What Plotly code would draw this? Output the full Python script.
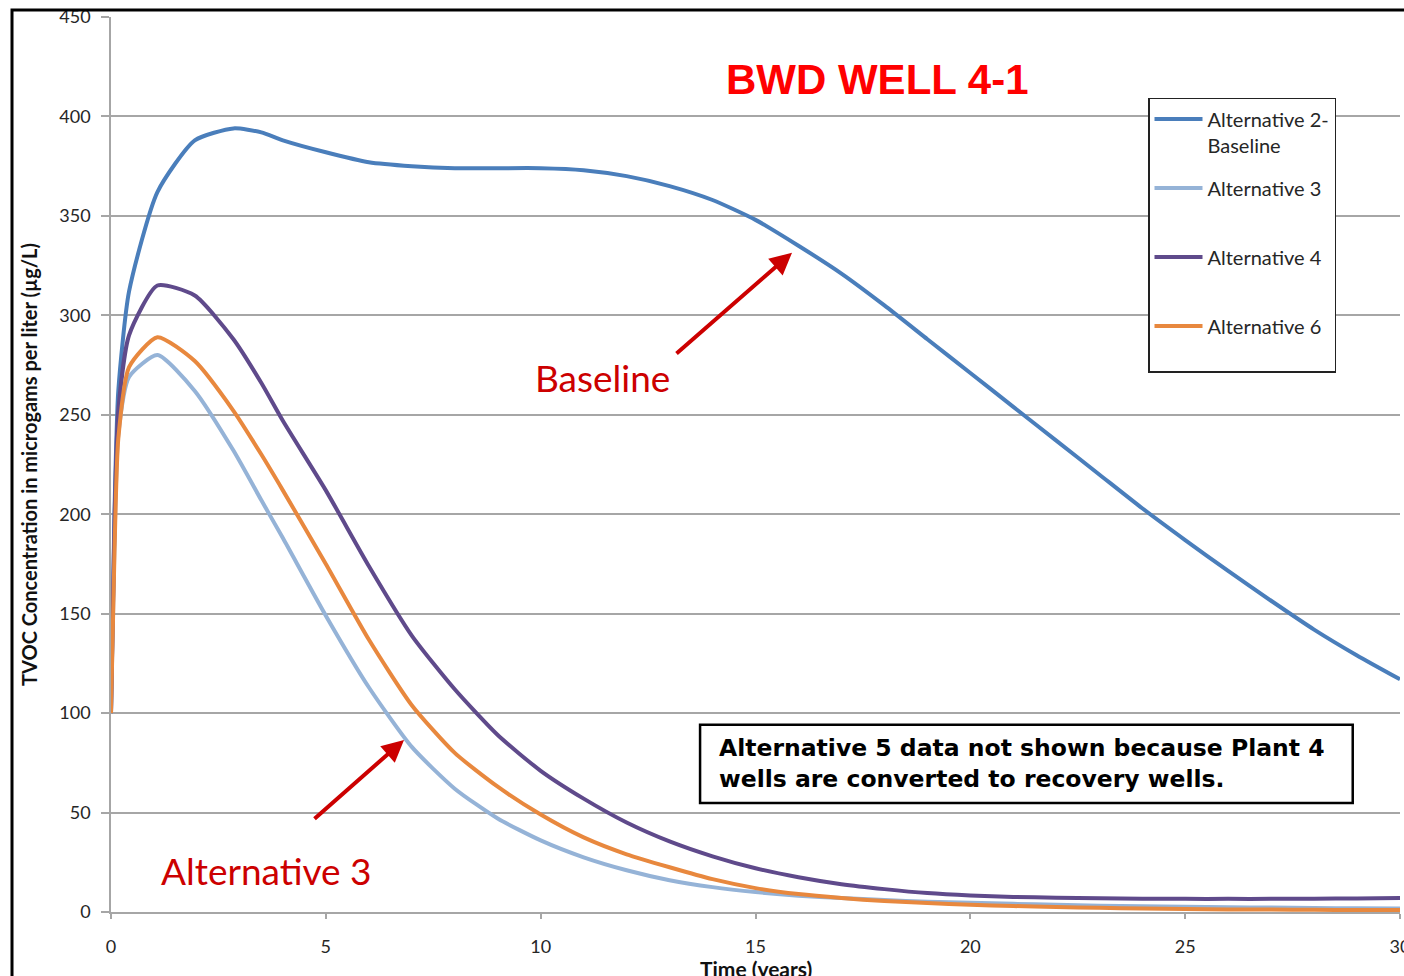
import plotly.graph_objects as go

# ---- data ----
years = [0, 0.08, 0.17, 0.42, 1.08, 1.95, 2.85, 3.5, 4, 5, 6, 7, 8, 9, 10, 11, 12, 13, 14, 15,
         16, 17, 18, 19, 20, 21, 22, 23, 24, 25, 26, 27, 28, 29, 30]
alt2_baseline = [100, 200, 262, 312, 362, 388, 394, 392, 388, 382, 377, 375, 374, 374, 374, 373,
                 370, 365, 358, 348, 335, 321, 305, 288, 271, 254, 237, 220, 203, 187, 171.5, 156.5,
                 142, 129, 117]
alt3 = [100, 185, 240, 269, 280, 262, 232, 207, 188, 149, 113, 83, 62, 47, 36, 27.5, 21, 16, 12.5, 10,
        8.2, 7, 6, 5.2, 4.6, 4.1, 3.6, 3.2, 2.9, 2.6, 2.4, 2.2, 2.0, 1.9, 1.8]
alt4 = [100, 195, 252, 290, 315, 310, 288, 266, 247, 212, 174, 139, 112, 89, 71, 57, 45, 35.5, 28, 22,
        17.5, 14, 11.5, 9.5, 8.3, 7.6, 7.2, 6.9, 6.7, 6.6, 6.6, 6.6, 6.7, 6.8, 7]
alt6 = [100, 180, 238, 274, 289, 277, 252, 230, 212, 175, 137, 104, 80, 63, 49, 37.5, 29, 22.5, 16.5, 12,
        9, 7, 5.5, 4.5, 3.6, 3, 2.5, 2.1, 1.8, 1.5, 1.3, 1.2, 1.1, 1, 1]

series_names = ["Alternative 2-<br>Baseline", "Alternative 3<br>&nbsp;", "Alternative 4<br>&nbsp;",
                "Alternative 6<br>&nbsp;"]
series_values = [alt2_baseline, alt3, alt4, alt6]
series_colors = ["#4A7EBB", "#95B3D7", "#5F4A8B", "#E8883E"]

y_ticks = [0, 50, 100, 150, 200, 250, 300, 350, 400, 450]
x_ticks = [0, 5, 10, 15, 20, 25, 30]

fig = go.Figure()
for i in range(4):
    fig.add_trace(go.Scatter(
        x=years, y=series_values[i], mode="lines", name=series_names[i],
        line=dict(color=series_colors[i], width=4, shape="spline", smoothing=0.6),
        legendgroup=f"g{i}",
    ))

tick_font = dict(family="Lato, Carlito, sans-serif", size=18, color="#262626")
grid_col = "#A6A6A6"

fig.update_layout(
    width=1404, height=976,
    template="none",
    paper_bgcolor="white", plot_bgcolor="white",
    margin=dict(l=111, r=4, t=17, b=64),
    showlegend=True,
    legend=dict(
        x=0.8045, y=0.9095, xanchor="left", yanchor="top",
        bgcolor="white", bordercolor="#222222", borderwidth=1.5,
        font=dict(family="Lato, sans-serif", size=20, color="#262626"),
        tracegroupgap=14, valign="top", itemwidth=48,
    ),
    xaxis=dict(
        range=[0, 30.0001], tickvals=x_ticks, ticktext=[str(v) for v in x_ticks],
        showgrid=False, showline=True, linecolor=grid_col, linewidth=2,
        ticks="outside", ticklen=5, tickcolor=grid_col, tickwidth=1.5,
        tickfont=tick_font, ticklabelstandoff=12, automargin=False, zeroline=False,
        ticklabeloverflow="allow",
    ),
    yaxis=dict(
        range=[0, 450.01], tickvals=y_ticks, ticktext=[str(v) for v in y_ticks],
        showgrid=True, gridcolor=grid_col, gridwidth=1.5,
        showline=True, linecolor=grid_col, linewidth=1.5,
        ticks="outside", ticklen=8, tickcolor=grid_col, tickwidth=1.5,
        tickfont=tick_font, ticklabelstandoff=7, automargin=False, zeroline=False,
        ticklabeloverflow="allow",
        title=dict(text="<b>TVOC Concentration in microgams per liter (µg/L)</b>",
                   font=dict(family="Lato, sans-serif", size=20, color="#111"), standoff=16),
    ),
)

# x axis title (sits below tick labels, partly cut at the page bottom as in the reference)
fig.add_annotation(x=15, y=0, xref="x", yref="paper", yanchor="top", yshift=-42,
                   text="<b>Time (years)</b>", showarrow=False,
                   font=dict(family="Lato, sans-serif", size=21, color="#111"))

# outer frame (only top and left edges visible in the reference)
fig.add_shape(type="rect", xref="paper", yref="paper", x0=-0.0768, x1=1.2, y0=-0.3, y1=1.0078,
              line=dict(color="black", width=3), layer="above")

# note box
fig.add_shape(type="rect", xref="x", yref="y", x0=13.71, x1=28.90, y0=54.8, y1=94.1,
              line=dict(color="black", width=2.5), fillcolor="white", layer="above")
fig.add_annotation(x=14.1, y=74.5, xref="x", yref="y", xanchor="left", yanchor="middle",
                   text="<b>Alternative 5 data not shown because Plant 4<br>wells are converted to recovery wells.</b>",
                   showarrow=False, align="left",
                   font=dict(family="DejaVu Sans, sans-serif", size=23.5, color="black"))

# title
fig.add_annotation(x=17.83, y=418.5, xref="x", yref="y", text="<b>BWD WELL 4-1</b>", showarrow=False,
                   font=dict(family="Liberation Sans, Arial, sans-serif", size=42, color="#FF0000"))

# callouts
fig.add_annotation(x=11.45, y=268.6, xref="x", yref="y", text="Baseline", showarrow=False,
                   font=dict(family="Lato, sans-serif", size=37, color="#CC0000"))
fig.add_annotation(x=3.61, y=21.1, xref="x", yref="y", text="Alternative 3", showarrow=False,
                   font=dict(family="Lato, sans-serif", size=37, color="#CC0000"))
fig.add_annotation(x=15.85, y=331.5, xref="x", yref="y", ax=-117, ay=102, text="",
                   showarrow=True, arrowhead=2, arrowsize=1.1, arrowwidth=4, arrowcolor="#CC0000")
fig.add_annotation(x=6.82, y=86.5, xref="x", yref="y", ax=-91, ay=80, text="",
                   showarrow=True, arrowhead=2, arrowsize=1.1, arrowwidth=4, arrowcolor="#CC0000")

fig.write_html("out.html", config={"displayModeBar": False},
               post_script="document.body.style.margin='0';document.body.style.overflow='hidden';")
